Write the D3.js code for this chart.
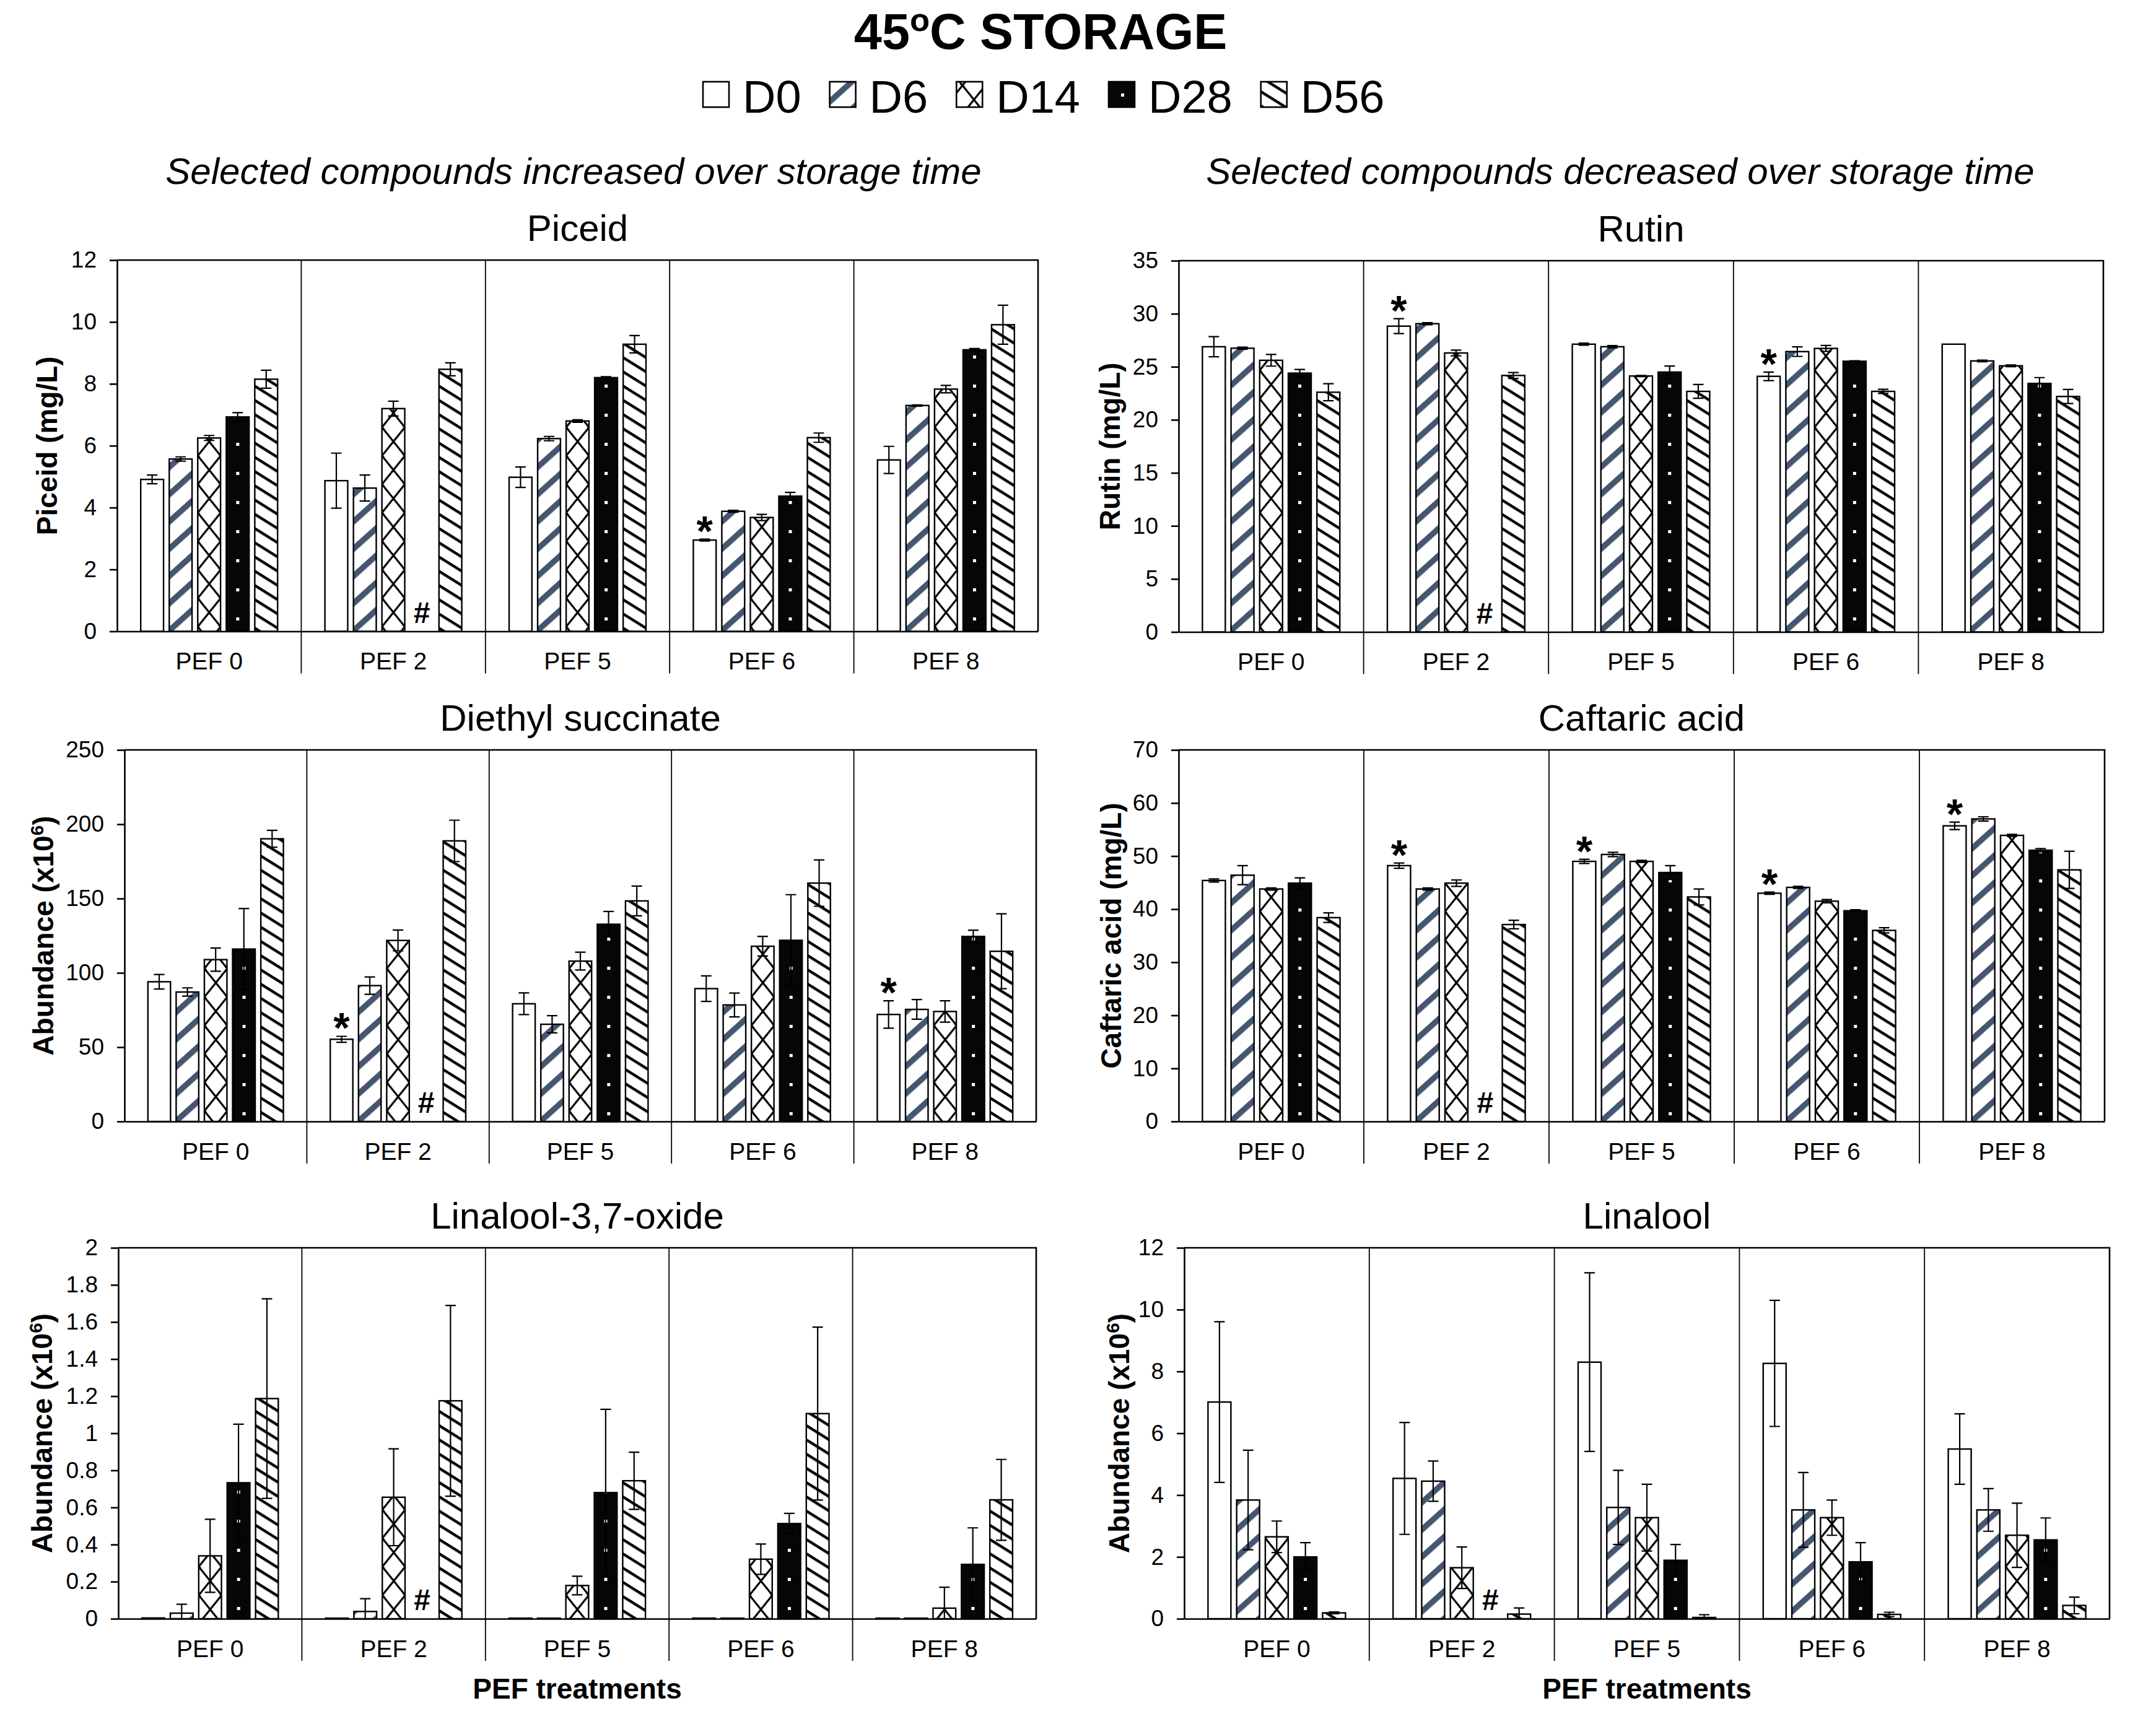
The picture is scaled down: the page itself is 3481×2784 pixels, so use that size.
<!DOCTYPE html>
<html>
<head>
<meta charset="utf-8">
<script src="https://cdn.jsdelivr.net/npm/d3@7"></script>
<style>
  body { margin: 0; background: #fff; }
  svg { display: block; }
  text { font-family: "Liberation Sans", Arial, Helvetica, sans-serif; }
</style>
</head>
<body>
<svg id="chart" width="3481" height="2784"></svg>
<script>
// categories
var treatments = ["PEF 0", "PEF 2", "PEF 5", "PEF 6", "PEF 8"];
var days = ["D0", "D6", "D14", "D28", "D56"];

// values: one row per treatment, one column per storage day (null = no data, "#")
var piceidMean = [
  [4.91, 5.57, 6.25, 6.93, 8.15],
  [4.87, 4.63, 7.20, null, 8.47],
  [4.98, 6.23, 6.80, 8.20, 9.28],
  [2.95, 3.88, 3.68, 4.37, 6.26],
  [5.54, 7.30, 7.83, 9.10, 9.91]
];
var piceidSd = [
  [0.14, 0.07, 0.08, 0.14, 0.29],
  [0.89, 0.42, 0.24, null, 0.21],
  [0.33, 0.07, 0.04, 0.03, 0.28],
  [0.03, 0.03, 0.10, 0.12, 0.15],
  [0.44, 0.02, 0.12, 0.04, 0.63]
];
var piceidStars = [[3, 0]];

var rutinMean = [
  [26.89, 26.75, 25.61, 24.40, 22.60],
  [28.83, 29.06, 26.30, null, 24.18],
  [27.13, 26.89, 24.13, 24.50, 22.68],
  [24.10, 26.43, 26.73, 25.52, 22.68],
  [27.13, 25.55, 25.09, 23.43, 22.20]
];
var rutinSd = [
  [0.95, 0.10, 0.55, 0.35, 0.80],
  [0.70, 0.10, 0.27, null, 0.28],
  [0.10, 0.10, 0.05, 0.57, 0.65],
  [0.40, 0.45, 0.28, 0.05, 0.20],
  [0.00, 0.08, 0.08, 0.55, 0.66]
];
var rutinStars = [[1, 0], [3, 0]];

var diethylMean = [
  [94.0, 87.1, 108.9, 116.0, 190.2],
  [55.3, 91.4, 121.8, null, 188.8],
  [79.2, 65.4, 107.9, 132.7, 148.4],
  [89.4, 78.4, 117.9, 121.9, 160.4],
  [72.0, 75.4, 74.0, 124.5, 114.5]
];
var diethylSd = [
  [4.9, 2.8, 7.8, 27.3, 5.7],
  [2.0, 5.8, 7.0, null, 13.9],
  [7.3, 5.8, 6.0, 8.6, 10.0],
  [8.6, 8.0, 6.6, 30.7, 15.6],
  [9.2, 6.6, 7.2, 4.2, 25.2]
];
var diethylStars = [[1, 0], [4, 0]];

var caftaricMean = [
  [45.4, 46.4, 43.8, 44.9, 38.4],
  [48.2, 43.8, 44.9, null, 37.1],
  [49.0, 50.3, 49.0, 46.9, 42.3],
  [43.0, 44.1, 41.5, 39.7, 36.0],
  [55.7, 57.0, 53.9, 51.1, 47.4]
];
var caftaricSd = [
  [0.3, 1.8, 0.2, 1.0, 0.9],
  [0.5, 0.2, 0.6, null, 0.8],
  [0.4, 0.4, 0.2, 1.3, 1.5],
  [0.2, 0.2, 0.3, 0.2, 0.5],
  [0.7, 0.4, 0.2, 0.3, 3.5]
];
var caftaricStars = [[1, 0], [2, 0], [3, 0], [4, 0]];

var oxideMean = [
  [0.004, 0.030, 0.339, 0.733, 1.187],
  [0.003, 0.039, 0.655, null, 1.175],
  [0.003, 0.003, 0.179, 0.680, 0.744],
  [0.003, 0.003, 0.321, 0.513, 1.106],
  [0.003, 0.003, 0.057, 0.293, 0.641]
];
var oxideSd = [
  [0, 0.048, 0.197, 0.316, 0.538],
  [0, 0.069, 0.261, null, 0.514],
  [0, 0, 0.050, 0.449, 0.154],
  [0, 0, 0.082, 0.055, 0.466],
  [0, 0, 0.113, 0.197, 0.218]
];
var oxideStars = [];

var linaloolMean = [
  [7.01, 3.84, 2.65, 2.00, 0.19],
  [4.54, 4.45, 1.65, null, 0.15],
  [8.30, 3.60, 3.27, 1.89, 0.04],
  [8.26, 3.52, 3.27, 1.84, 0.14],
  [5.49, 3.52, 2.70, 2.55, 0.43]
];
var linaloolSd = [
  [2.60, 1.61, 0.51, 0.46, 0.03],
  [1.81, 0.65, 0.67, null, 0.20],
  [2.89, 1.20, 1.08, 0.51, 0.09],
  [2.04, 1.21, 0.57, 0.62, 0.07],
  [1.14, 0.69, 1.04, 0.71, 0.27]
];
var linaloolStars = [];

var svg = d3.select("#chart");
var defs = svg.append("defs");

// fill patterns, one per storage day
var fills = ["#fff", "url(#pD6)", "url(#pD14)", "url(#pD28)", "url(#pD56)"];

var p6 = defs.append("pattern").attr("id", "pD6").attr("patternUnits", "userSpaceOnUse")
  .attr("width", 40).attr("height", 32.7).attr("patternTransform", "rotate(-42)");
p6.append("rect").attr("width", 40).attr("height", 32.7).attr("fill", "#fff");
p6.append("rect").attr("width", 40).attr("height", 9.4).attr("fill", "#465670");

var p14 = defs.append("pattern").attr("id", "pD14").attr("patternUnits", "userSpaceOnUse")
  .attr("width", 37).attr("height", 46);
p14.append("rect").attr("width", 37).attr("height", 46).attr("fill", "#fff");
p14.append("path").attr("d", "M0,0L37,46M37,0L0,46M-3,-3L3,3M34,43L40,49")
  .attr("stroke", "#000").attr("stroke-width", 3.2).attr("fill", "none");

var p28 = defs.append("pattern").attr("id", "pD28").attr("patternUnits", "userSpaceOnUse")
  .attr("width", 46).attr("height", 47);
p28.append("rect").attr("width", 46).attr("height", 47).attr("fill", "#060606");
p28.append("rect").attr("x", 16).attr("y", 10).attr("width", 5).attr("height", 5).attr("fill", "#fff");
p28.append("rect").attr("x", 39).attr("y", 33.5).attr("width", 5).attr("height", 5).attr("fill", "#fff");

var p56 = defs.append("pattern").attr("id", "pD56").attr("patternUnits", "userSpaceOnUse")
  .attr("width", 40).attr("height", 19.5).attr("patternTransform", "rotate(32)");
p56.append("rect").attr("width", 40).attr("height", 19.5).attr("fill", "#fff");
p56.append("rect").attr("width", 40).attr("height", 4.4).attr("fill", "#000");

function addText(sel, parts) {
  parts.forEach(function(p) {
    var t = sel.append("tspan").text(p[0]);
    if (p[1]) t.attr("baseline-shift", "super").attr("font-size", "65%");
  });
}

// title and legend
var title = svg.append("text").attr("x", 1680).attr("y", 79).attr("text-anchor", "middle")
  .attr("font-size", 81).attr("font-weight", "bold");
addText(title, [["45"], ["o", true], ["C STORAGE"]]);

var lx = 1135;
days.forEach(function(d, j) {
  svg.append("rect").attr("x", lx).attr("y", 132).attr("width", 42).attr("height", 41)
    .attr("fill", fills[j]).attr("stroke", "#000").attr("stroke-width", 2.6);
  var t = svg.append("text").attr("x", lx + 64).attr("y", 182).attr("font-size", 74).text(d);
  lx += 64 + t.node().getComputedTextLength() + 46;
});

svg.append("text").attr("x", 926).attr("y", 297).attr("text-anchor", "middle")
  .attr("font-size", 60).attr("font-style", "italic")
  .text("Selected compounds increased over storage time");
svg.append("text").attr("x", 2616).attr("y", 297).attr("text-anchor", "middle")
  .attr("font-size", 60).attr("font-style", "italic")
  .text("Selected compounds decreased over storage time");

var abundance = [["Abundance (x10"], ["6", true], [")"]];
var panels = [
  { title: "Piceid", ylabel: [["Piceid (mg/L)"]], mean: piceidMean, sd: piceidSd, stars: piceidStars,
    ymax: 12, step: 2, left: 189, right: 1676, top: 420, bottom: 1019.5, labelX: 92 },
  { title: "Rutin", ylabel: [["Rutin (mg/L)"]], mean: rutinMean, sd: rutinSd, stars: rutinStars,
    ymax: 35, step: 5, left: 1903, right: 3396, top: 421, bottom: 1020.5, labelX: 1808 },
  { title: "Diethyl succinate", ylabel: abundance, mean: diethylMean, sd: diethylSd, stars: diethylStars,
    ymax: 250, step: 50, left: 201, right: 1673, top: 1211, bottom: 1811, labelX: 86 },
  { title: "Caftaric acid", ylabel: [["Caftaric acid (mg/L)"]], mean: caftaricMean, sd: caftaricSd, stars: caftaricStars,
    ymax: 70, step: 10, left: 1903, right: 3398, top: 1211, bottom: 1811, labelX: 1810 },
  { title: "Linalool-3,7-oxide", ylabel: abundance, mean: oxideMean, sd: oxideSd, stars: oxideStars,
    ymax: 2, step: 0.2, left: 191, right: 1673, top: 2015, bottom: 2614, labelX: 84, xtitle: true },
  { title: "Linalool", ylabel: abundance, mean: linaloolMean, sd: linaloolSd, stars: linaloolStars,
    ymax: 12, step: 2, left: 1912, right: 3406, top: 2015, bottom: 2614, labelX: 1823, xtitle: true }
];

function drawPanel(p) {
  var g = svg.append("g");
  var x0 = d3.scaleBand().domain(treatments).range([p.left, p.right]);
  var x1 = d3.scaleBand().domain(days).range([0, x0.bandwidth()])
    .paddingInner(0.2).paddingOuter(0.83);
  var y = d3.scaleLinear().domain([0, p.ymax]).range([p.bottom, p.top]);
  var bw = x1.bandwidth();

  treatments.forEach(function(t, i) {
    days.forEach(function(d, j) {
      var v = p.mean[i][j];
      var bx = x0(t) + x1(d);
      if (v === null) {
        g.append("text").attr("x", bx + bw / 2).attr("y", y(0) - 14)
          .attr("text-anchor", "middle").attr("font-size", 48).attr("font-weight", "bold").text("#");
        return;
      }
      var bg = g.append("g").attr("transform", "translate(" + bx + ",0)");
      bg.append("rect")
        .attr("x", 0).attr("y", y(v))
        .attr("width", bw).attr("height", y(0) - y(v))
        .attr("fill", fills[j]).attr("stroke", "#000").attr("stroke-width", 2.4);
    });
  });

  // error bars
  treatments.forEach(function(t, i) {
    days.forEach(function(d, j) {
      var v = p.mean[i][j], e = p.sd[i][j];
      if (v === null || !e) return;
      var cx = x0(t) + x1(d) + bw / 2;
      var hi = y(v + e), lo = y(Math.max(0, v - e));
      g.append("path")
        .attr("d", "M" + cx + "," + lo + "V" + hi +
          "M" + (cx - 8.5) + "," + hi + "H" + (cx + 8.5) +
          "M" + (cx - 8.5) + "," + lo + "H" + (cx + 8.5))
        .attr("stroke", "#000").attr("stroke-width", 2.2).attr("fill", "none");
    });
  });

  p.stars.forEach(function(s) {
    var v = p.mean[s[0]][s[1]], e = p.sd[s[0]][s[1]] || 0;
    g.append("text")
      .attr("x", x0(treatments[s[0]]) + x1(days[s[1]]) + bw / 2)
      .attr("y", y(v + e) + 10)
      .attr("text-anchor", "middle").attr("font-size", 68).attr("font-weight", "bold").text("*");
  });

  // axes and frame
  var ticks = d3.range(0, p.ymax + p.step / 2, p.step);
  var yAxis = d3.axisLeft(y).tickValues(ticks).tickSize(12).tickSizeOuter(0).tickPadding(21)
    .tickFormat(function(d) { return String(+d.toFixed(2)); });
  var ya = g.append("g").attr("transform", "translate(" + p.left + ",0)").call(yAxis);
  ya.selectAll("text").attr("font-size", 37).attr("fill", "#000")
    .style("font-family", "'Liberation Sans', Arial, sans-serif");
  ya.selectAll("line, path").attr("stroke", "#000").attr("stroke-width", 2.6);

  var xAxis = d3.axisBottom(x0).tickSize(0).tickSizeOuter(0).tickPadding(34);
  var xa = g.append("g").attr("transform", "translate(0," + p.bottom + ")").call(xAxis);
  xa.selectAll("text").attr("font-size", 39).attr("fill", "#000")
    .style("font-family", "'Liberation Sans', Arial, sans-serif");
  xa.select("path").attr("stroke", "#000").attr("stroke-width", 2.6);

  g.append("path").attr("d", "M" + p.left + "," + p.top + "H" + p.right + "V" + p.bottom)
    .attr("stroke", "#000").attr("stroke-width", 2.6).attr("fill", "none");

  treatments.slice(1).forEach(function(t) {
    g.append("line").attr("x1", x0(t)).attr("x2", x0(t))
      .attr("y1", p.top).attr("y2", p.bottom + 68)
      .attr("stroke", "#000").attr("stroke-width", 1.8);
  });

  var cx = (p.left + p.right) / 2;
  g.append("text").attr("x", cx).attr("y", p.top - 31).attr("text-anchor", "middle")
    .attr("font-size", 60).text(p.title);

  var yl = g.append("text")
    .attr("transform", "translate(" + p.labelX + "," + ((p.top + p.bottom) / 2) + ") rotate(-90)")
    .attr("text-anchor", "middle").attr("font-size", 46).attr("font-weight", "bold");
  addText(yl, p.ylabel);

  if (p.xtitle) {
    g.append("text").attr("x", cx).attr("y", 2743).attr("text-anchor", "middle")
      .attr("font-size", 46).attr("font-weight", "bold").text("PEF treatments");
  }
}

panels.forEach(drawPanel);
</script>
</body>
</html>
